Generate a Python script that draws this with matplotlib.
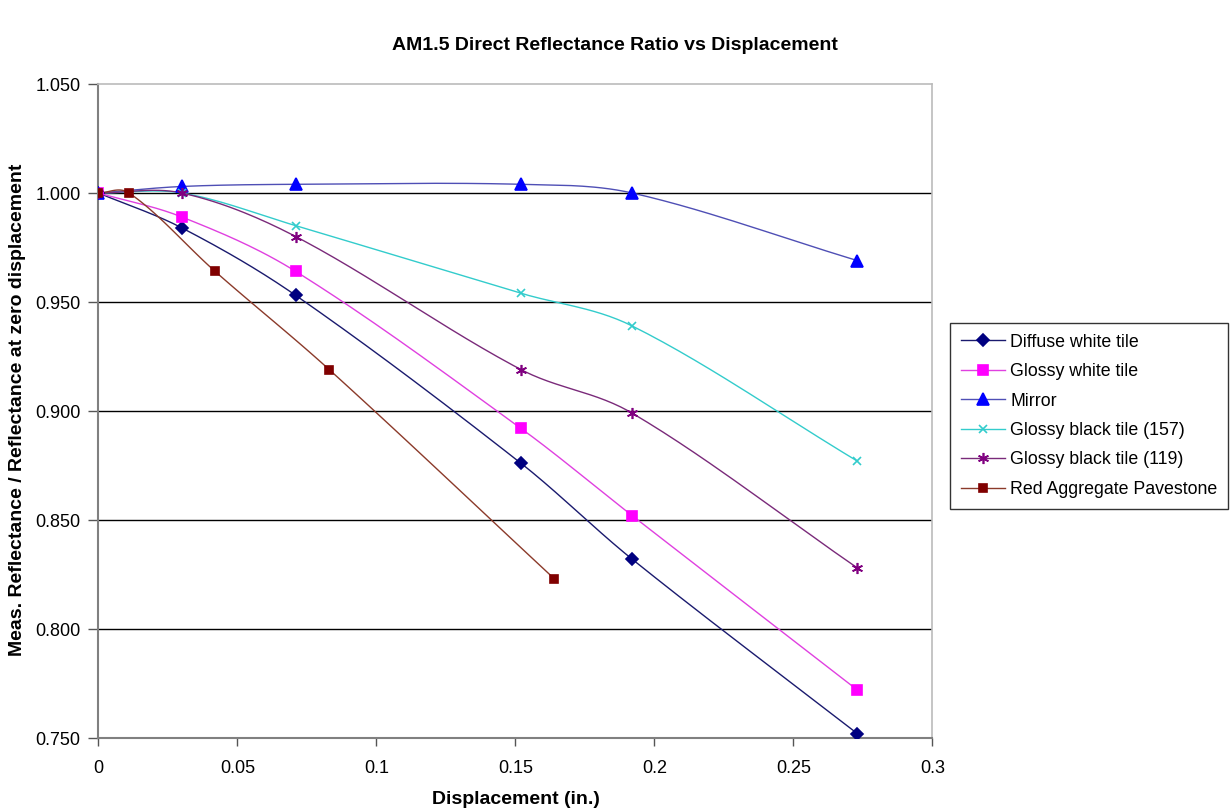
import numpy as np
import matplotlib
matplotlib.use("Agg")
import matplotlib.pyplot as plt
from matplotlib.lines import Line2D

plt.rcParams['font.family'] = ['Liberation Sans', 'DejaVu Sans']

title = "AM1.5 Direct Reflectance Ratio vs Displacement"
xlabel = "Displacement (in.)"
ylabel = "Meas. Reflectance / Reflectance at zero displacement"

x_main = [0.0, 0.030, 0.071, 0.152, 0.192, 0.273]
diffuse_white = [1.000, 0.984, 0.953, 0.876, 0.832, 0.752]
glossy_white = [1.000, 0.989, 0.964, 0.892, 0.852, 0.772]
mirror = [1.000, 1.003, 1.004, 1.004, 1.000, 0.969]
glossy_black_157 = [1.000, 1.000, 0.985, 0.954, 0.939, 0.877]
glossy_black_119 = [1.000, 1.000, 0.980, 0.919, 0.899, 0.828]
x_red = [0.0, 0.011, 0.042, 0.083, 0.164]
red_pavestone = [1.000, 1.000, 0.964, 0.919, 0.823]

xticks = [0, 0.05, 0.1, 0.15, 0.2, 0.25, 0.3]
xticklabels = ["0", "0.05", "0.1", "0.15", "0.2", "0.25", "0.3"]
yticks = [0.750, 0.800, 0.850, 0.900, 0.950, 1.000, 1.050]
yticklabels = ["0.750", "0.800", "0.850", "0.900", "0.950", "1.000", "1.050"]

series = [
    ("Diffuse white tile", x_main, diffuse_white, "#1a1a6e", "#000080", "D", 6, "#000080"),
    ("Glossy white tile", x_main, glossy_white, "#e040e0", "#FF00FF", "s", 7, "#FF00FF"),
    ("Mirror", x_main, mirror, "#4f4fb5", "#0000FF", "^", 8, "#0000FF"),
    ("Glossy black tile (157)", x_main, glossy_black_157, "#33CCCC", "none", "x", 6, "#33CCCC"),
    ("Glossy black tile (119)", x_main, glossy_black_119, "#7a2a7a", "#800080", (6, 2, 0), 8, "#800080"),
    ("Red Aggregate Pavestone", x_red, red_pavestone, "#8b3a2a", "#800000", "s", 5.5, "#800000"),
]


def smooth(xs, ys, n=30):
    """Hermite smoothing with tangents from neighbouring points (x-spacing aware)."""
    xs = np.asarray(xs, float)
    ys = np.asarray(ys, float)
    m = len(xs)
    slopes = np.zeros(m)
    for i in range(m):
        if i == 0:
            slopes[i] = (ys[1] - ys[0]) / (xs[1] - xs[0])
        elif i == m - 1:
            slopes[i] = (ys[-1] - ys[-2]) / (xs[-1] - xs[-2])
        else:
            slopes[i] = (ys[i + 1] - ys[i - 1]) / (xs[i + 1] - xs[i - 1])
    ox, oy = [xs[0]], [ys[0]]
    t = np.linspace(0, 1, n)[1:]
    for i in range(m - 1):
        h = xs[i + 1] - xs[i]
        h00 = 2 * t ** 3 - 3 * t ** 2 + 1
        h10 = t ** 3 - 2 * t ** 2 + t
        h01 = -2 * t ** 3 + 3 * t ** 2
        h11 = t ** 3 - t ** 2
        yy = h00 * ys[i] + h10 * h * slopes[i] + h01 * ys[i + 1] + h11 * h * slopes[i + 1]
        ox.extend(xs[i] + t * h)
        oy.extend(yy)
    return np.array(ox), np.array(oy)


fig = plt.figure(figsize=(12.31, 8.11), dpi=100)
ax = fig.add_axes([0.080, 0.090, 0.6775, 0.8064])

for yt in yticks[1:-1]:
    ax.axhline(yt, color="black", lw=1.0, zorder=1)

handles = []
for name, xs, ys, lc, mfc, mk, ms, mec in series:
    sx, sy = smooth(xs, ys)
    ax.plot(sx, sy, color=lc, lw=1.0, zorder=3)
    ax.plot(xs, ys, ls="none", marker=mk, ms=ms, mfc=mfc, mec=mec, mew=1.2, zorder=4)
    handles.append(Line2D([0], [0], color=lc, lw=1.0, marker=mk, ms=ms, mfc=mfc, mec=mec, mew=1.2))

ax.set_xlim(0, 0.3)
ax.set_ylim(0.75, 1.05)
ax.set_xticks(xticks)
ax.set_xticklabels(xticklabels, fontsize=13)
ax.set_yticks(yticks)
ax.set_yticklabels(yticklabels, fontsize=13)
ax.tick_params(axis="x", direction="out", length=6, width=1, color="#555555", pad=10)
ax.tick_params(axis="y", direction="out", length=7, width=1, color="#555555", pad=6)

for s in ["left", "bottom"]:
    ax.spines[s].set_color("#808080")
    ax.spines[s].set_linewidth(1.5)
for s in ["top", "right"]:
    ax.spines[s].set_color("#BBBBBB")
    ax.spines[s].set_linewidth(1.2)

ax.set_xlabel(xlabel, fontsize=14, fontweight="bold", labelpad=10)
fig.text(18 / 1231, 1 - 410 / 811, ylabel, rotation=90, ha="center", va="center",
         fontsize=14, fontweight="bold")
fig.text(615 / 1231, 1 - 46 / 811, title, ha="center", va="center", fontsize=14, fontweight="bold")

leg = fig.legend(handles, [s[0] for s in series], loc="upper left",
                 bbox_to_anchor=(950 / 1231, 1 - 323 / 811), fontsize=12.8,
                 frameon=True, fancybox=False, edgecolor="black", handlelength=2.5,
                 handletextpad=0.3, borderpad=0.6, labelspacing=0.7, borderaxespad=0)
leg.get_frame().set_linewidth(1.0)

fig.savefig("out.png", dpi=100, facecolor="white")
